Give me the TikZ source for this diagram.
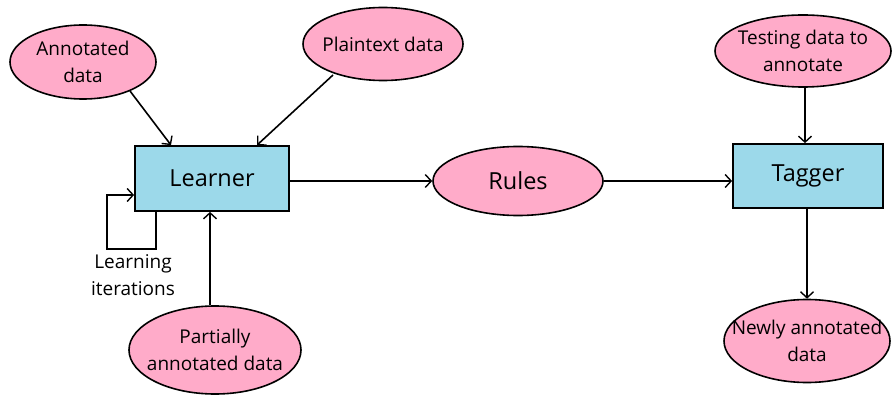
\documentclass[tikz,border=0pt]{standalone}
\usepackage{fontspec}
\setmainfont{Open Sans}
\usetikzlibrary{shapes.geometric,arrows.meta}
\definecolor{pinkfill}{HTML}{FFABC9}
\definecolor{bluefill}{HTML}{9CD9EA}
\tikzset{
  data/.style={ellipse, draw=black, line width=1.6pt, fill=pinkfill, inner sep=-30pt, align=center, font=\fontsize{19}{26.5}\selectfont},
  proc/.style={rectangle, draw=black, line width=1.8pt, fill=bluefill, inner sep=0pt, font=\fontsize{23.5}{28}\selectfont},
  conn/.style={line width=1.6pt, -{Straight Barb[length=6pt,width=13pt,line width=1.4pt]}}
}
\begin{document}
\begin{tikzpicture}[x=1pt,y=-1pt]
\useasboundingbox (0,0) rectangle (893,395);
\node[data, minimum width=146pt, minimum height=74pt] (ann) at (83,62) {Annotated\\data};
\node[data, minimum width=160pt, minimum height=73pt] (plain) at (383,44) {Plaintext data};
\node[proc, minimum width=154pt, minimum height=65pt] (learner) at (212,178.5) {Learner};
\node[data, minimum width=170pt, minimum height=69pt, font=\fontsize{23.5}{28}\selectfont] (rules) at (518,181) {Rules};
\node[data, minimum width=176pt, minimum height=72pt] (test) at (803,51) {Testing data to\\annotate};
\node[proc, minimum width=150pt, minimum height=64pt] (tagger) at (808,176) {Tagger};
\node[data, minimum width=166pt, minimum height=83pt] (newly) at (807,341) {Newly annotated\\data};
\node[data, minimum width=172pt, minimum height=88pt] (part) at (215,350) {Partially\\annotated data};
\node[align=center, font=\fontsize{19}{27}\selectfont] (iter) at (133,275) {Learning\\iterations};

\coordinate (a1) at (130,91);
\coordinate (a2) at (333,75);
\draw[conn] (a1) -- (learner.north -| 171,0);
\draw[conn] (a2) -- (learner.north -| 257,0);
\draw[conn] (learner.east |- rules.west) -- (rules.west);
\draw[conn] (rules.east) -- (tagger.west |- rules.east);
\draw[conn] (test.south -| 805,0) -- (tagger.north -| 805,0);
\draw[conn] (tagger.south -| 807,0) -- (newly.north -| 807,0);
\draw[conn] (part.north -| 210,0) -- (learner.south -| 210,0);
\draw[conn] (learner.south -| 156,0) -- (156,249) -- (107,249) -- (107,195) -- (learner.west |- 0,195);
\end{tikzpicture}
\end{document}
